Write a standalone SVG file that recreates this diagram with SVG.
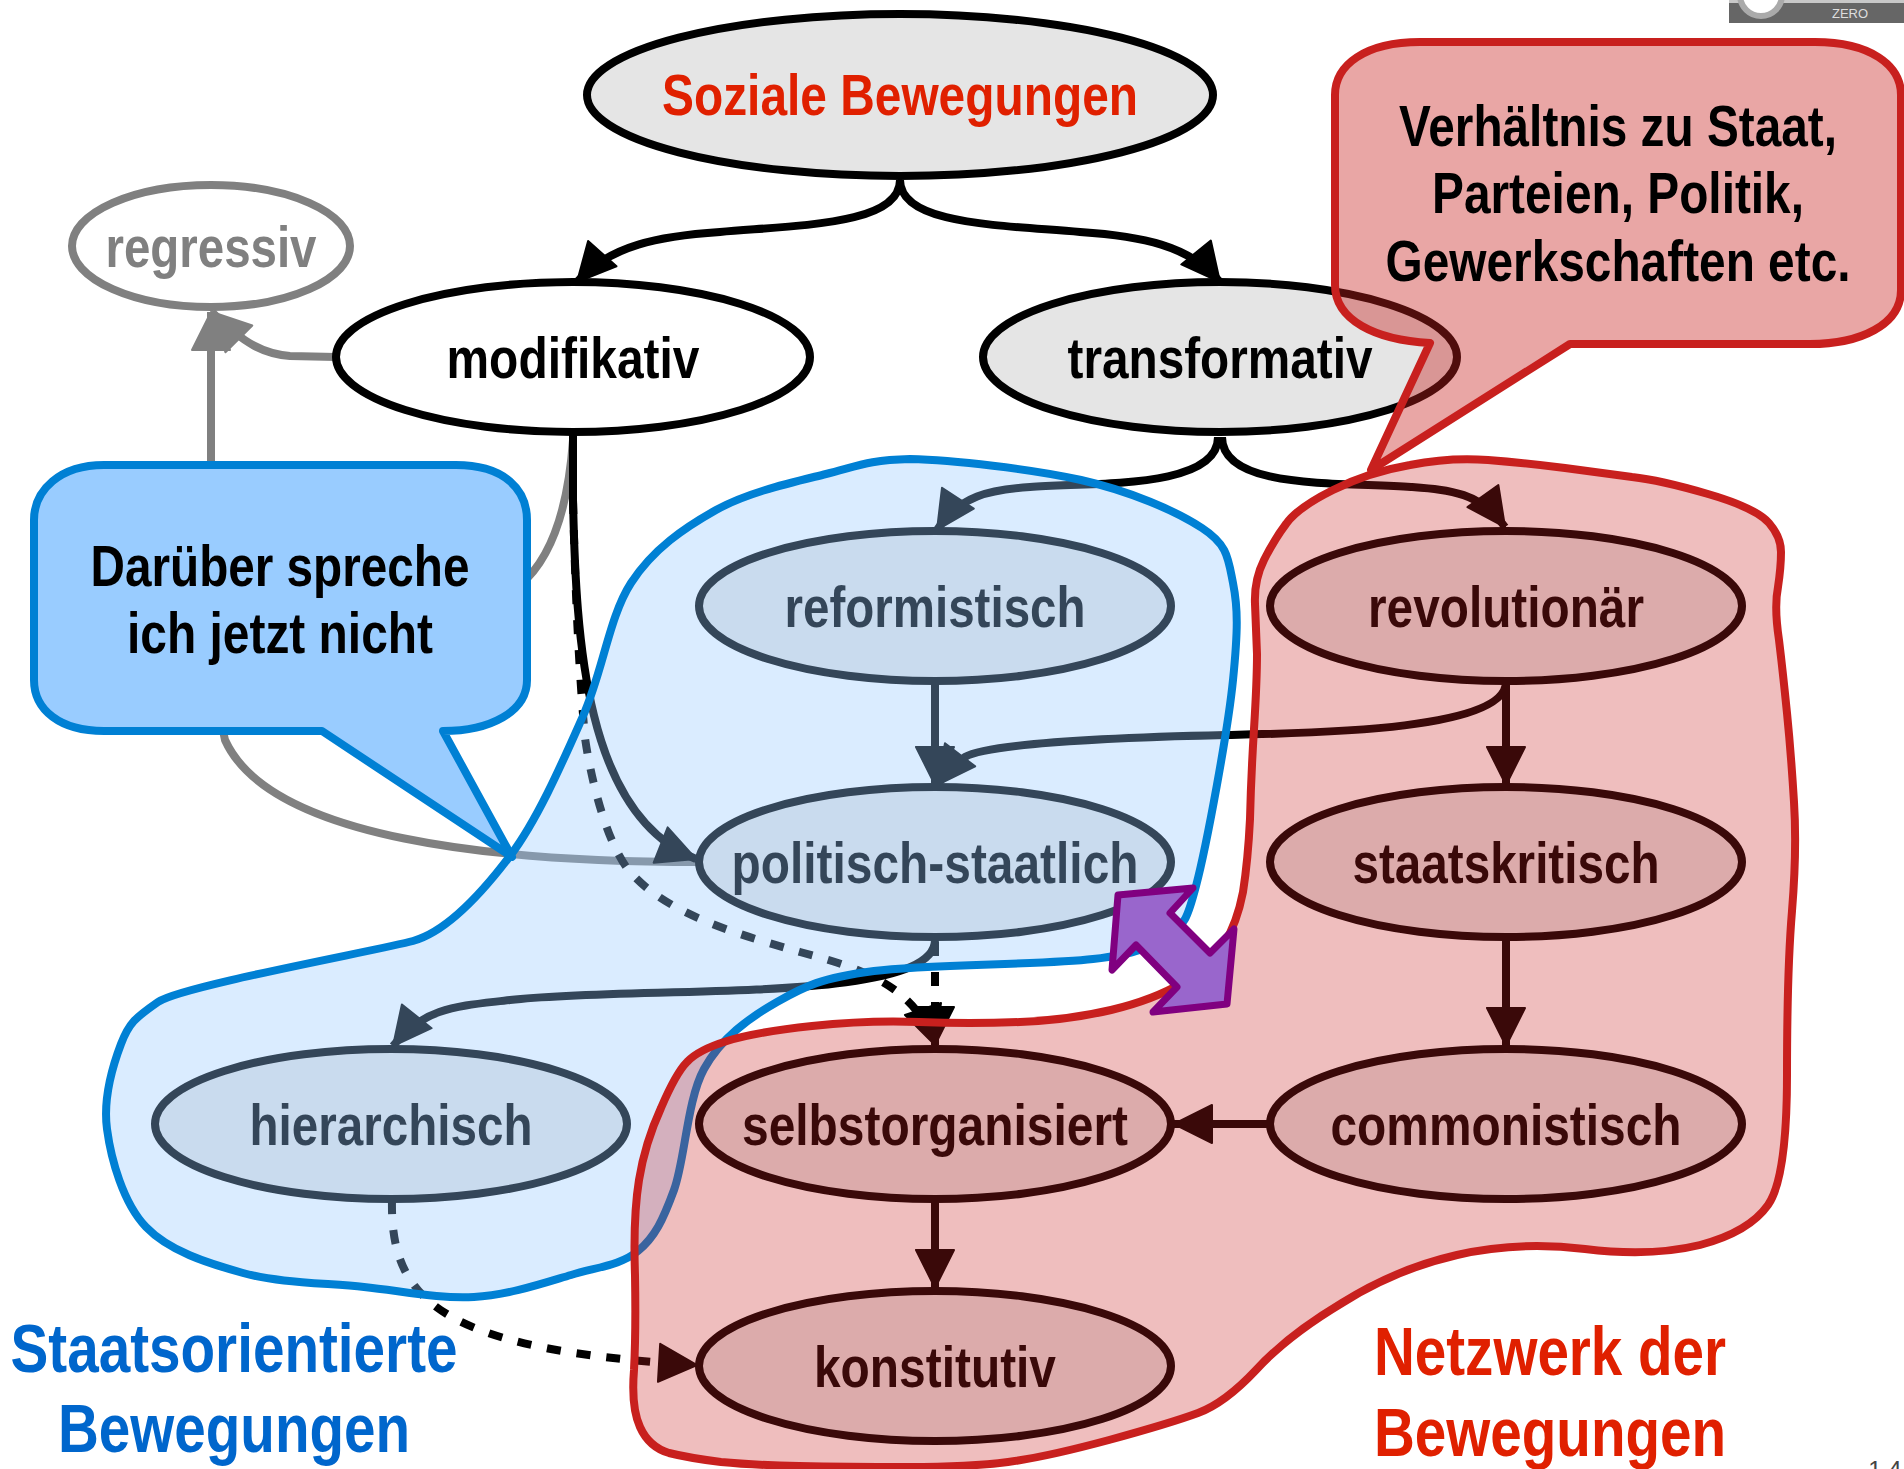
<svg xmlns="http://www.w3.org/2000/svg" width="1904" height="1469" viewBox="0 0 1904 1469">
<style>
text{font-family:"Liberation Sans",Arial,sans-serif;font-weight:700;text-anchor:middle}
.n{font-size:58px;fill:#000}
.big{font-size:68px}
.e{stroke:#000;stroke-width:8;fill:#e5e5e5}
.c{fill:none;stroke:#000;stroke-width:8}
.d{stroke-dasharray:14 16}
.g{stroke:#808080}
.head{marker-end:url(#a)}
</style>
<defs>
<marker id="a" markerUnits="userSpaceOnUse" markerWidth="46" markerHeight="46" refX="40" refY="21" orient="auto" overflow="visible"><path d="M2 2L40 21L2 40z" fill="#000" stroke="#000" stroke-width="2" stroke-linejoin="round"/></marker>
<marker id="ag" markerUnits="userSpaceOnUse" markerWidth="46" markerHeight="46" refX="40" refY="21" orient="auto" overflow="visible"><path d="M2 2L40 21L2 40z" fill="#808080" stroke="#808080" stroke-width="2" stroke-linejoin="round"/></marker>
</defs>
<g id="connectors">
<path class="c g" d="M573 440C568 510 550 560 520 585C400 640 200 650 225 740C270 840 500 862 700 862"/>
<path class="c g" d="M211 470L211 312" marker-end="url(#ag)"/>
<path class="c g" d="M336 357L290 356C265 354 245 345 212 312" marker-end="url(#ag)"/>
<path class="c head" d="M900 180C900 225 800 225 720 232C660 236 610 245 577 282"/>
<path class="c head" d="M900 180C900 225 1000 225 1080 232C1140 236 1190 245 1220 282"/>
<path class="c d head" d="M573 500C575 580 578 660 585 738C591 780 608 850 633 875C670 915 740 935 800 952C860 968 915 985 935 1045"/>
<path class="c head" d="M573 432L573 500C576 640 585 815 696 859"/>
<path class="c head" d="M1218 437C1218 490 1090 482 1030 487C990 490 960 495 937 530"/>
<path class="c head" d="M1222 437C1222 490 1340 482 1411 487C1450 490 1480 492 1505 527"/>
<path class="c head" d="M935 682L935 785"/>
<path class="c head" d="M1506 682C1506 730 1320 733 1226 735C1090 738 985 745 965 757Q950 768 937 785"/>
<path class="c head" d="M1506 682L1506 785"/>
<path class="c head" d="M1506 938L1506 1046"/>
<path class="c head" d="M1269 1124L1174 1124"/>
<path class="c head" d="M935 1200L935 1288"/>
<path class="c head" d="M935 940C935 1005 640 985 510 1000C460 1006 425 1006 393 1046"/>
<path class="c d head" d="M935 942L935 1045"/>
<path class="c d head" d="M392 1200C390 1300 440 1350 697 1365"/>
</g>
<g id="soziale"><ellipse class="e" cx="900" cy="95" rx="313" ry="81"/><text class="n" x="900" y="115" textLength="476" lengthAdjust="spacingAndGlyphs" style="fill:#e02000">Soziale Bewegungen</text></g>
<g id="regressiv"><ellipse class="e" cx="211" cy="246" rx="139" ry="61" style="fill:#fff;stroke:#808080"/><text class="n" x="211" y="267" textLength="211" lengthAdjust="spacingAndGlyphs" style="fill:#808080">regressiv</text></g>
<g id="modifikativ"><ellipse class="e" cx="573" cy="357" rx="237" ry="75" style="fill:#fff"/><text class="n" x="573" y="378" textLength="253" lengthAdjust="spacingAndGlyphs">modifikativ</text></g>
<g id="transformativ"><ellipse class="e" cx="1220" cy="357" rx="237" ry="75"/><text class="n" x="1220" y="378" textLength="305" lengthAdjust="spacingAndGlyphs">transformativ</text></g>
<g id="reformistisch"><ellipse class="e" cx="935" cy="606" rx="236" ry="75"/><text class="n" x="935" y="627" textLength="301" lengthAdjust="spacingAndGlyphs">reformistisch</text></g>
<g id="revolutionaer"><ellipse class="e" cx="1506" cy="606" rx="236" ry="75"/><text class="n" x="1506" y="627" textLength="276" lengthAdjust="spacingAndGlyphs">revolutionär</text></g>
<g id="politisch-staatlich"><ellipse class="e" cx="935" cy="862" rx="236" ry="75"/><text class="n" x="935" y="883" textLength="407" lengthAdjust="spacingAndGlyphs">politisch-staatlich</text></g>
<g id="staatskritisch"><ellipse class="e" cx="1506" cy="862" rx="236" ry="75"/><text class="n" x="1506" y="883" textLength="307" lengthAdjust="spacingAndGlyphs">staatskritisch</text></g>
<g id="hierarchisch"><ellipse class="e" cx="391" cy="1124" rx="236" ry="75"/><text class="n" x="391" y="1145" textLength="283" lengthAdjust="spacingAndGlyphs">hierarchisch</text></g>
<g id="selbstorganisiert"><ellipse class="e" cx="935" cy="1124" rx="236" ry="75"/><text class="n" x="935" y="1145" textLength="386" lengthAdjust="spacingAndGlyphs">selbstorganisiert</text></g>
<g id="commonistisch"><ellipse class="e" cx="1506" cy="1124" rx="236" ry="75"/><text class="n" x="1506" y="1145" textLength="351" lengthAdjust="spacingAndGlyphs">commonistisch</text></g>
<g id="konstitutiv"><ellipse class="e" cx="935" cy="1366" rx="236" ry="75"/><text class="n" x="935" y="1387" textLength="242" lengthAdjust="spacingAndGlyphs">konstitutiv</text></g>
<path id="blob-staat" fill="#94c8ff" fill-opacity=".35" stroke="#0080d4" stroke-width="8" d="M910 459C952 460 1032 469 1081 480S1176 511 1202 528S1228 558 1233 583S1238 630 1233 680S1207 844 1196 886S1183 923 1166 935S1142 953 1093 959S927 964 874 971S805 986 777 1002S721 1038 704 1069S685 1160 674 1190S655 1237 638 1251S598 1267 571 1275S509 1295 474 1297S402 1291 364 1287S279 1283 243 1273S169 1251 146 1227S111 1159 107 1129S113 1065 121 1044S135 1018 158 1002C181 986 380 950 413 941C446 932 482 893 510 856S563 761 583 716S609 617 631 583S684 528 716 510S794 482 826 474S868 460 910 459Z"/>
<path id="blob-netzwerk" fill="#c81e1e" fill-opacity=".29" stroke="#c8201e" stroke-width="8" d="M1333 490Q1369 472 1410 465Q1450 457 1488 460Q1526 463 1565 468Q1603 473 1632 477Q1660 480 1708 494Q1756 508 1769 523Q1781 537 1781 552Q1781 567 1778 587Q1774 607 1779 640Q1783 673 1787 713Q1791 753 1794 802Q1797 850 1792 911Q1787 971 1787 1075Q1787 1178 1768 1205Q1749 1232 1700 1245Q1651 1257 1585 1249Q1518 1241 1457 1255Q1396 1269 1342 1303Q1287 1336 1256 1370Q1225 1403 1198 1413Q1171 1423 1109 1440Q1046 1457 1008 1462Q970 1467 908 1467Q845 1467 799 1466Q752 1465 721 1462Q689 1458 669 1453Q649 1447 640 1427Q631 1407 634 1370Q636 1333 635 1275Q633 1217 639 1180Q645 1143 661 1108Q676 1073 687 1062Q698 1050 727 1041Q756 1032 812 1026Q868 1020 919 1022Q970 1024 1020 1022Q1069 1020 1111 1010Q1153 1000 1182 983Q1210 965 1224 944Q1237 923 1243 892Q1248 860 1250 819Q1251 777 1254 729Q1257 680 1257 654Q1256 627 1255 604Q1254 580 1264 560Q1274 540 1286 524Q1297 508 1333 490Z"/>
<g id="callout-blue">
<path fill="#99ccff" stroke="#0080d4" stroke-width="8" stroke-linejoin="round" d="M104 465L456 465C505 465 527 490 527 520L527 680C527 712 490 731 443 731L512 857L322 731L104 731C60 731 34 710 34 680L34 520C34 490 60 465 104 465Z"/>
<text class="n" x="280" y="586" textLength="379" lengthAdjust="spacingAndGlyphs">Darüber spreche</text>
<text class="n" x="280" y="653" textLength="306" lengthAdjust="spacingAndGlyphs">ich jetzt nicht</text>
</g>
<g id="callout-red">
<path fill="#c8201e" fill-opacity=".4" stroke="#c8201e" stroke-width="8" stroke-linejoin="round" d="M1420 42L1815 42C1870 42 1901 65 1901 95L1901 290C1901 325 1860 344 1810 344L1570 344L1371 470L1430 343C1375 340 1335 320 1335 285L1335 95C1335 65 1365 42 1420 42Z"/>
<text class="n" x="1618" y="146" textLength="438" lengthAdjust="spacingAndGlyphs">Verhältnis zu Staat,</text>
<text class="n" x="1618" y="213" textLength="372" lengthAdjust="spacingAndGlyphs">Parteien, Politik,</text>
<text class="n" x="1618" y="281" textLength="465" lengthAdjust="spacingAndGlyphs">Gewerkschaften etc.</text>
</g>
<path id="doppelpfeil" fill="#9966cc" stroke="#800080" stroke-width="7" stroke-linejoin="round" d="M1118 895L1193 888L1170 913L1210 953L1234 929L1227 1004L1153 1012L1177 987L1136 945L1112 970Z"/>
<g id="labels">
<text class="big" x="234" y="1372" textLength="447" lengthAdjust="spacingAndGlyphs" style="fill:#0066cc">Staatsorientierte</text>
<text class="big" x="234" y="1452" textLength="352" lengthAdjust="spacingAndGlyphs" style="fill:#0066cc">Bewegungen</text>
<text class="big" x="1550" y="1375" textLength="352" lengthAdjust="spacingAndGlyphs" style="fill:#e02000">Netzwerk der</text>
<text class="big" x="1550" y="1456" textLength="352" lengthAdjust="spacingAndGlyphs" style="fill:#e02000">Bewegungen</text>
</g>
<g id="badge">
<rect x="1729" y="0" width="175" height="23" fill="#666"/>
<rect x="1729" y="0" width="175" height="3" fill="#c8c8c8"/>
<circle cx="1761" cy="-5" r="21" fill="#fff" stroke="#aaa" stroke-width="6"/>
<text x="1850" y="18" font-size="13" fill="#ddd" style="font-weight:400">ZERO</text>
</g>
<text x="1885" y="1478" font-size="24" fill="#444" style="font-weight:400">1 4</text>
</svg>
